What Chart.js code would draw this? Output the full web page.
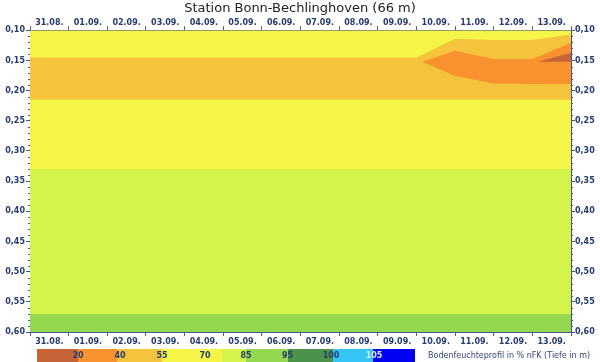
<!DOCTYPE html>
<html>
<head>
<meta charset="utf-8">
<script src="https://cdn.jsdelivr.net/npm/chart.js@4/dist/chart.umd.min.js"></script>
<style>
  html, body { margin: 0; padding: 0; background: #fff; }
</style>
</head>
<body>
<canvas id="chart" width="600" height="362"></canvas>
<script>
// days shown on the x axis (labels sit in the middle of each day)
const dayLabels = ['31.08.', '01.09.', '02.09.', '03.09.', '04.09.', '05.09.', '06.09.',
                   '07.09.', '08.09.', '09.09.', '10.09.', '11.09.', '12.09.', '13.09.'];

// horizontal base layers (depth in m) and their % nFK class
const bandTop = [0.10, 0.33, 0.57];
const bandBottom = [0.33, 0.57, 0.60];
const bandClass = [70, 85, 95];

// 55 % layer: upper edge over time (x = days since 31.08.), lower edge fixed
const class55X = [0, 10, 11, 12, 13, 14];
const class55Top = [0.145, 0.145, 0.114, 0.116, 0.116, 0.107];
const class55Bottom = 0.215;

// 40 % layer
const class40X = [10.15, 11, 12, 13, 14];
const class40Top = [0.152, 0.134, 0.1475, 0.1475, 0.1205];
const class40Bottom = [0.152, 0.1757, 0.188, 0.189, 0.189];

// 20 % layer
const class20X = [13.14, 14];
const class20Top = [0.152, 0.137];
const class20Bottom = [0.152, 0.152];

// colour scale
const legendClasses = [20, 40, 55, 70, 85, 95, 100, 105];
const classColors = {
  20: '#c8643a', 40: '#f8922f', 55: '#f6c43c', 70: '#f5f547', 85: '#d3f54b',
  95: '#93d84e', 100: '#4d924a', 105: '#35c5f5', 110: '#0000f5'
};

const axisCol = '#44578a';
const labelCol = '#263b6e';

function pts(xs, ys) {
  return xs.map((x, i) => ({ x: x, y: Array.isArray(ys) ? ys[i] : ys }));
}

function area(data, color, fill, order) {
  return {
    data: data,
    fill: fill,
    backgroundColor: color,
    borderColor: 'rgba(0,0,0,0)',
    borderWidth: 0,
    pointRadius: 0,
    tension: 0,
    order: order,
  };
}

const datasets = [
  area(pts(class20X, class20Top), classColors[20], '+1', 1),
  area(pts(class20X, class20Bottom), 'rgba(0,0,0,0)', false, 1),
  area(pts(class40X, class40Top), classColors[40], '+1', 2),
  area(pts(class40X, class40Bottom), 'rgba(0,0,0,0)', false, 2),
  area(pts(class55X, class55Top), classColors[55], { value: class55Bottom }, 3),
];
bandTop.forEach((t, i) => {
  datasets.push(area(pts([0, 14], t), classColors[bandClass[i]], { value: bandBottom[i] }, 4));
});

const xTickVals = [];
for (let i = 0; i <= 28; i++) xTickVals.push(i / 2);

function xAxis(pos) {
  return {
    type: 'linear',
    position: pos,
    min: 0,
    max: 14,
    afterBuildTicks: s => { s.ticks = xTickVals.map(v => ({ value: v })); },
    afterFit: s => { s.height = pos === 'top' ? 13.7 : 30; },
    grid: {
      drawOnChartArea: false,
      tickLength: 4,
      tickColor: c => (c.tick && c.tick.value % 1 === 0) ? axisCol : 'rgba(0,0,0,0)',
    },
    border: { color: axisCol, width: 1 },
    ticks: {
      autoSkip: false,
      maxRotation: 0,
      padding: pos === 'top' ? -1 : 1,
      color: labelCol,
      font: { family: 'DejaVu Sans', size: 8, weight: 'bold' },
      callback: v => (v % 1 === 0.5) ? dayLabels[Math.floor(v)] : '',
    },
  };
}

function yAxis(pos) {
  return {
    type: 'linear',
    position: pos,
    reverse: true,
    min: 0.1,
    max: 0.6,
    afterFit: s => { s.width = pos === 'left' ? 30 : 29; },
    grid: { drawOnChartArea: false, tickLength: 4, tickColor: axisCol },
    border: { color: axisCol, width: 1 },
    ticks: {
      stepSize: 0.05,
      padding: pos === 'left' ? 1 : 0,
      color: labelCol,
      font: { family: 'DejaVu Sans', size: 8, weight: 'bold' },
      callback: v => v.toFixed(2).replace('.', ','),
    },
  };
}

// minor ticks every 0.01 m and the colour scale at the bottom
const extras = {
  id: 'extras',
  afterDraw(chart) {
    const ctx = chart.ctx;
    const ys = chart.scales.y;
    const a = chart.chartArea;
    ctx.save();
    ctx.strokeStyle = axisCol;
    ctx.lineWidth = 1;
    for (let k = 10; k <= 60; k++) {
      if (k % 5 === 0) continue;
      const py = Math.round(ys.getPixelForValue(k / 100)) + 0.5;
      ctx.beginPath();
      ctx.moveTo(a.left - 2, py); ctx.lineTo(a.left, py);
      ctx.moveTo(a.right, py); ctx.lineTo(a.right + 2, py);
      ctx.stroke();
    }

    const edges = [37, 78, 117, 162, 222, 246, 288, 333, 373, 415];
    const segClasses = legendClasses.concat([110]);
    segClasses.forEach((c, i) => {
      ctx.fillStyle = classColors[c];
      ctx.fillRect(edges[i], 349, edges[i + 1] - edges[i], 13);
    });
    const labelX = [78, 120, 162, 205, 246, 287.5, 331, 374];
    ctx.font = 'bold 8px "DejaVu Sans"';
    ctx.textAlign = 'center';
    ctx.textBaseline = 'middle';
    legendClasses.forEach((c, i) => {
      ctx.fillStyle = c === 105 ? '#d8ecff' : labelCol;
      ctx.fillText(String(c), labelX[i], 356);
    });
    ctx.font = '8px "DejaVu Sans"';
    ctx.textAlign = 'left';
    ctx.fillStyle = '#33477a';
    ctx.fillText('Bodenfeuchteprofil in % nFK (Tiefe in m)', 428, 356);
    ctx.restore();
  }
};

new Chart(document.getElementById('chart'), {
  type: 'line',
  data: { datasets: datasets },
  options: {
    responsive: false,
    animation: false,
    layout: { padding: 0 },
    scales: {
      x: xAxis('bottom'),
      x2: xAxis('top'),
      y: yAxis('left'),
      y2: yAxis('right'),
    },
    plugins: {
      legend: { display: false },
      tooltip: { enabled: false },
      title: {
        display: true,
        text: 'Station Bonn-Bechlinghoven (66 m)',
        color: '#222',
        font: { family: 'DejaVu Sans', size: 13, weight: 'normal' },
        padding: { top: 1, bottom: 0 },
      },
    },
  },
  plugins: [extras],
});
</script>
</body>
</html>
